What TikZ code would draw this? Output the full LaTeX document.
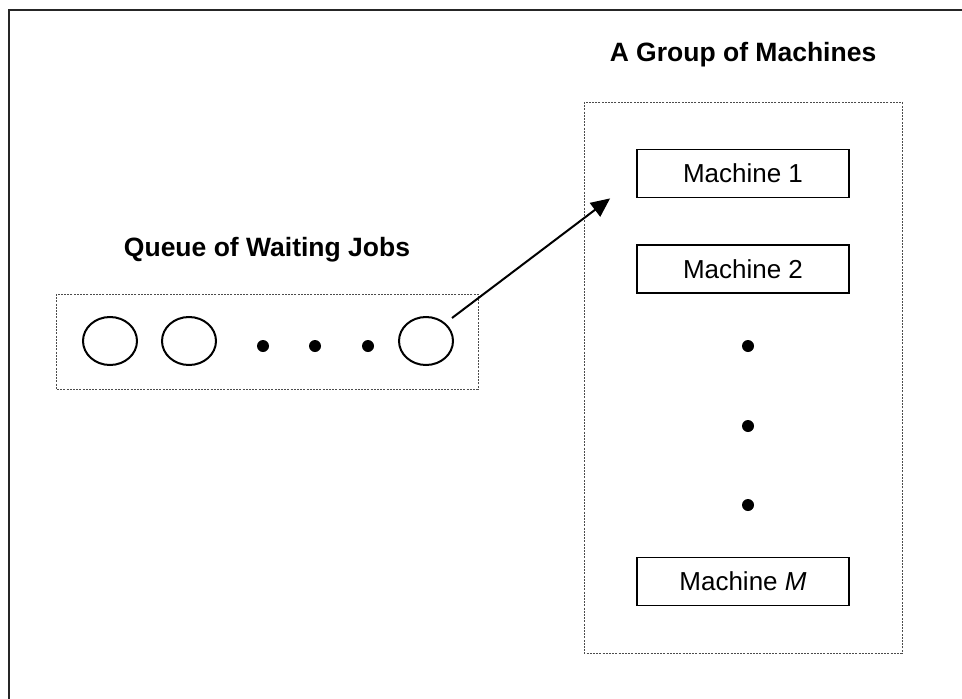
\documentclass[tikz,border=0pt]{standalone}
\usepackage{fontspec}
\setmainfont{Liberation Sans}
\usetikzlibrary{shapes.geometric,arrows.meta}
\begin{document}
\begin{tikzpicture}[x=1pt,y=-1pt,
  frameline/.style={line width=2.2pt,draw=black!85},
  groupbox/.style={draw=black!70,line width=0.9pt,dash pattern=on 2pt off 1.2pt},
  job/.style={ellipse,draw,line width=2pt,minimum width=54pt,minimum height=48pt,inner sep=0pt},
  filldot/.style={circle,fill=black,minimum size=12pt,inner sep=0pt},
  machine/.style={rectangle,draw,line width=1.8pt,minimum width=212pt,minimum height=48pt,inner sep=0pt,font=\fontsize{26}{30}\selectfont},
  heading/.style={font=\fontsize{26.5}{30}\selectfont\bfseries,inner sep=0pt},
  link/.style={line width=2pt,-{Triangle[length=19pt,width=17pt]}}]
\useasboundingbox (0,0) rectangle (962,699);
% outer frame
\draw[frameline] (9,699) -- (9,10) -- (962,10);

% queue of waiting jobs
\node[heading] (qtitle) at (267,250) {Queue of Waiting Jobs};
\draw[groupbox] (56,294) rectangle (478,389);
\node[job] (c1) at (110,341) {};
\node[job] (c2) at (189,341) {};
\node[filldot] (d1) at (263,346) {};
\node[filldot] (d2) at (315,346) {};
\node[filldot] (d3) at (368,346) {};
\node[job] (c4) at (426,341) {};

% group of machines
\node[heading] (mtitle) at (743,55) {A Group of Machines};
\draw[groupbox] (584,102) rectangle (902,653);
\node[machine] (m1) at (743,173.5) {Machine 1};
\node[machine] (m2) at (743,269) {Machine 2};
\node[filldot] (v1) at (748,346) {};
\node[filldot] (v2) at (748,426) {};
\node[filldot] (v3) at (748,505) {};
\node[machine] (mM) at (743,581.5) {Machine \textit{M}};

% a job is dispatched to a machine
\coordinate (start) at ([shift={(26,-23)}]c4.center);
\coordinate (tip) at ([xshift=-26pt]m1.south west);
\draw[link] (start) -- (tip);
\end{tikzpicture}
\end{document}
